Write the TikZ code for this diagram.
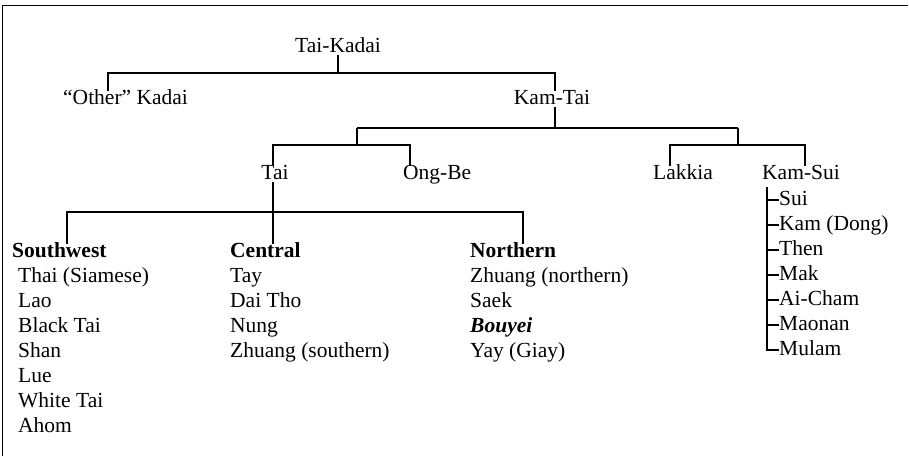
\documentclass[tikz,border=0pt]{standalone}
\usepackage{fontspec}
\setmainfont{Liberation Serif}
\begin{document}
\begin{tikzpicture}[x=1pt,y=-1pt,
  lbl/.style={inner sep=0pt,text height=15pt,text depth=5pt,font=\fontsize{21.5}{25}\selectfont},
  hd/.style={lbl,font=\fontsize{21.5}{25}\selectfont\bfseries},
  br/.style={line width=1.5pt},
  frame/.style={line width=0.9pt}]
\useasboundingbox (0,0) rectangle (909,456);
\draw[frame] (2,456) -- (2,5) -- (908,5);
% top level
\node[lbl,anchor=base] (tk) at (338,52) {Tai-Kadai};
\node[lbl,anchor=base west] (ok) at (63,104) {“Other” Kadai};
\node[lbl,anchor=base] (kt) at (552,104) {Kam-Tai};
\coordinate (b1l) at (108,73); \coordinate (b1r) at (555,73);
\draw[br] ([yshift=2]tk.south) -- (tk.south |- b1l);
\draw[br] ([yshift=-2]b1l |- ok.north) -- (b1l) -- (b1r) -- ([yshift=-2]b1r |- kt.north);
% second level
\node[lbl,anchor=base] (tai) at (275,179) {Tai};
\node[lbl,anchor=base west] (ob) at (403,179) {Ong-Be};
\node[lbl,anchor=base west] (lk) at (653,179) {Lakkia};
\node[lbl,anchor=base west] (ks) at (762,179) {Kam-Sui};
\coordinate (b2l) at (357,128); \coordinate (b2r) at (738,128);
\draw[br] ([yshift=2]b1r |- kt.south) -- (b1r |- b2l);
\draw[br] (b2l) -- (b2r);
\coordinate (b3l) at (273,145); \coordinate (b3r) at (410,145);
\coordinate (b5l) at (670,145); \coordinate (b5r) at (805,145);
\draw[br] (b2l) -- (b2l |- b3l);
\draw[br] (b2r) -- (b2r |- b5l);
\draw[br] ([yshift=-2]b3l |- tai.north) -- (b3l) -- (b3r) -- ([yshift=-2]b3r |- ob.north);
\draw[br] ([yshift=-2]b5l |- lk.north) -- (b5l) -- (b5r) -- ([yshift=-2]b5r |- ks.north);
% Tai branches
\coordinate (b4l) at (67,212); \coordinate (b4r) at (523,212);
\node[hd,anchor=base west] (sw) at (12,257) {Southwest};
\node[hd,anchor=base west] (ce) at (230,257) {Central};
\node[hd,anchor=base west] (no) at (470,257) {Northern};
\draw[br] ([yshift=2]b3l |- tai.south) -- (b3l |- b4l);
\draw[br] ([yshift=-2]b4l |- sw.north) -- (b4l) -- (b4r) -- ([yshift=-2]b4r |- no.north);
\draw[br] (b3l |- b4l) -- ([yshift=-2]b3l |- ce.north);
% Southwest list
\node[lbl,anchor=base west] (s1) at (18,282) {Thai (Siamese)};
\node[lbl,anchor=base west] (s2) at (18,307) {Lao};
\node[lbl,anchor=base west] (s3) at (18,332) {Black Tai};
\node[lbl,anchor=base west] (s4) at (18,357) {Shan};
\node[lbl,anchor=base west] (s5) at (18,382) {Lue};
\node[lbl,anchor=base west] (s6) at (18,407) {White Tai};
\node[lbl,anchor=base west] (s7) at (18,432) {Ahom};
% Central list
\node[lbl,anchor=base west] (c1) at (230,282) {Tay};
\node[lbl,anchor=base west] (c2) at (230,307) {Dai Tho};
\node[lbl,anchor=base west] (c3) at (230,332) {Nung};
\node[lbl,anchor=base west] (c4) at (230,357) {Zhuang (southern)};
% Northern list
\node[lbl,anchor=base west] (n1) at (470,282) {Zhuang (northern)};
\node[lbl,anchor=base west] (n2) at (470,307) {Saek};
\node[lbl,anchor=base west,font=\fontsize{21.5}{25}\selectfont\bfseries\itshape] (n3) at (470,332) {Bouyei};
\node[lbl,anchor=base west] (n4) at (470,357) {Yay (Giay)};
% Kam-Sui list
\coordinate (kv) at (767,187);
\node[lbl,anchor=base west] (k1) at (779,205) {Sui};
\node[lbl,anchor=base west] (k2) at (779,230) {Kam (Dong)};
\node[lbl,anchor=base west] (k3) at (779,255) {Then};
\node[lbl,anchor=base west] (k4) at (779,280) {Mak};
\node[lbl,anchor=base west] (k5) at (779,305) {Ai-Cham};
\node[lbl,anchor=base west] (k6) at (779,330) {Maonan};
\node[lbl,anchor=base west] (k7) at (779,355) {Mulam};
\draw[br] (kv) |- (k7.west);
\foreach \k in {k1,k2,k3,k4,k5,k6} \draw[br] (kv |- \k.west) -- (\k.west);
\end{tikzpicture}
\end{document}
